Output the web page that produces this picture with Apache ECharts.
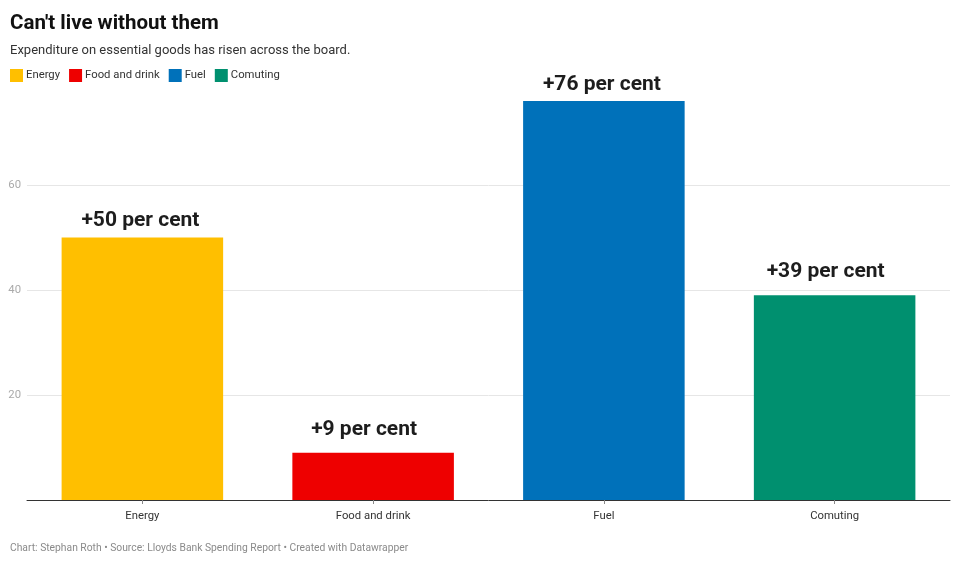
<!DOCTYPE html>
<html>
<head>
<meta charset="utf-8">
<script src="https://cdn.jsdelivr.net/npm/echarts@6/dist/echarts.min.js"></script>
<style>
html,body{margin:0;padding:0;background:#fff;}
#c{width:960px;height:562px;}
</style>
</head>
<body>
<div id="c"></div>
<script>
const categories = ['Energy', 'Food and drink', 'Fuel', 'Comuting'];
const values = [50, 9, 76, 39];
const labels = ['+50 per cent', '+9 per cent', '+76 per cent', '+39 per cent'];
const colors = ['#FFBF00', '#EE0000', '#0071BA', '#00906F'];
const yTicks = [0, 20, 40, 60, 80];
// annotation placement (layout only)
const labelDistance = [6, 13, 6, 13];
const labelShiftX = [-2, -9, -2, -9];

const chart = echarts.init(document.getElementById('c'));
const series = categories.map((name, i) => ({
  name: name,
  type: 'bar',
  stack: 'all',
  barWidth: '70%',
  itemStyle: { color: colors[i] },
  data: categories.map((c, j) => j === i ? values[i] : null),
  label: {
    show: true,
    position: 'top',
    distance: labelDistance[i],
    offset: [labelShiftX[i], 0],
    formatter: () => labels[i],
    fontFamily: 'Roboto',
    fontWeight: 'bold',
    fontSize: 21,
    color: '#1d1d1d'
  },
  emphasis: { disabled: true }
}));

chart.setOption({
  animation: false,
  textStyle: { fontFamily: 'Roboto' },
  title: [
    {
      text: "Can't live without them",
      left: 5, top: 8,
      textStyle: { fontFamily: 'Roboto', fontWeight: 'bold', fontSize: 20.5, color: '#111' }
    },
    {
      text: 'Expenditure on essential goods has risen across the board.',
      left: 5, top: 39,
      textStyle: { fontFamily: 'Roboto', fontWeight: 'normal', fontSize: 13, color: '#333' }
    },
    {
      text: 'Chart: Stephan Roth • Source: Lloyds Bank Spending Report • Created with Datawrapper',
      left: 5, top: 538,
      textStyle: { fontFamily: 'Roboto', fontWeight: 'normal', fontSize: 10.3, color: '#8a8a8a' }
    }
  ],
  legend: {
    left: 5, top: 64,
    itemWidth: 13, itemHeight: 13,
    itemGap: 9,
    icon: 'rect',
    selectedMode: false,
    textStyle: { fontFamily: 'Roboto', fontSize: 11.3, color: '#333', padding: [0, 0, 0, -2] },
    data: categories
  },
  grid: { left: 27, right: 10, top: 80, bottom: 62, containLabel: false },
  xAxis: {
    type: 'category',
    data: categories,
    axisLine: { lineStyle: { color: '#333', width: 1 } },
    axisTick: { show: true, alignWithLabel: true, length: 4, lineStyle: { color: '#888' } },
    axisLabel: { fontFamily: 'Roboto', fontSize: 11.3, color: '#333', margin: 11 }
  },
  yAxis: {
    type: 'value',
    min: yTicks[0], max: yTicks[yTicks.length - 1], interval: 20,
    axisLine: { show: false },
    axisTick: { show: false },
    axisLabel: {
      fontFamily: 'Roboto', fontSize: 11.3, color: '#aaa', margin: 6,
      formatter: v => (v === 0 || v === 80) ? '' : String(v)
    },
    splitLine: { lineStyle: { color: ['rgba(0,0,0,0)', '#e6e6e6', '#e6e6e6', '#e6e6e6', 'rgba(0,0,0,0)'] } }
  },
  series: series
});
</script>
</body>
</html>
